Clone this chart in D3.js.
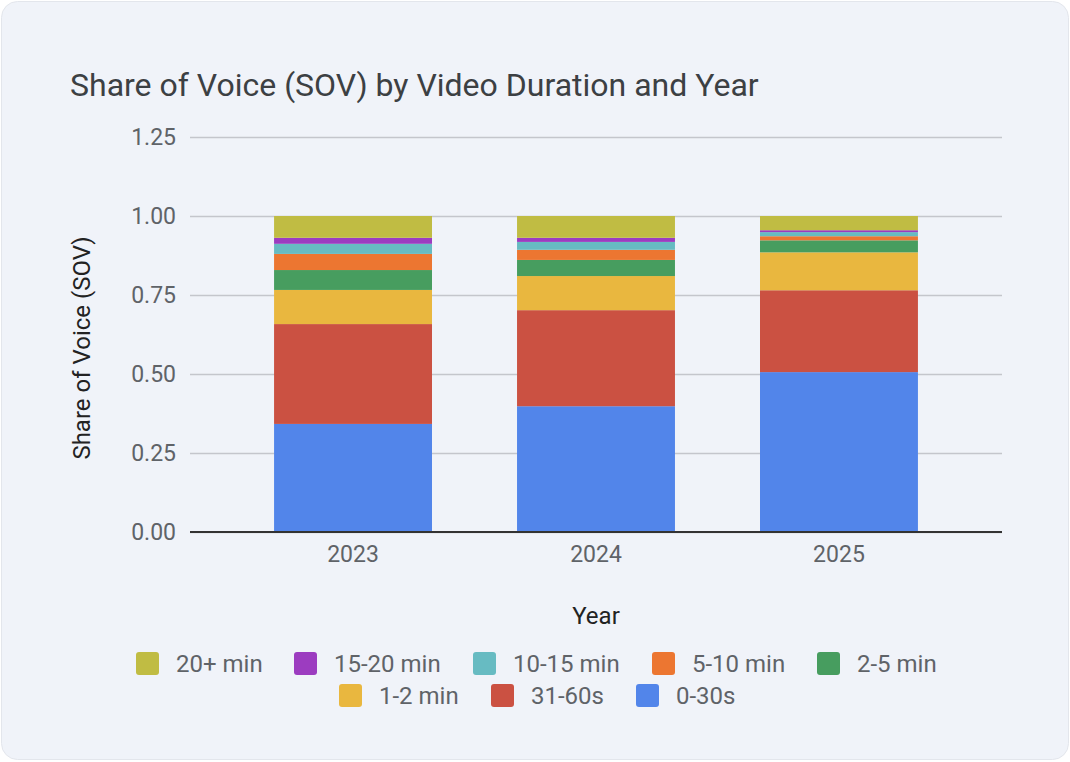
<!DOCTYPE html>
<html>
<head>
<meta charset="utf-8">
<script src="https://cdn.jsdelivr.net/npm/d3@7"></script>
<style>
  body { margin: 0; background: #fff; font-family: Roboto, "Noto Sans", sans-serif; }
  svg { display: block; }
</style>
</head>
<body>
<svg id="chart" width="1070" height="762"></svg>
<script>
var years = ["2023", "2024", "2025"];

// series listed bottom to top of the stack
var seriesNames = ["0-30s", "31-60s", "1-2 min", "2-5 min", "5-10 min", "10-15 min", "15-20 min", "20+ min"];
var seriesColors = ["#5285ea", "#cb5142", "#e9b73f", "#479d5f", "#ec7631", "#67bbc2", "#9c3cc0", "#c0bc43"];

var sov0to30s = [0.342, 0.398, 0.506];
var sov31to60s = [0.316, 0.304, 0.259];
var sov1to2 = [0.108, 0.108, 0.120];
var sov2to5 = [0.063, 0.051, 0.038];
var sov5to10 = [0.051, 0.032, 0.013];
var sov10to15 = [0.032, 0.025, 0.013];
var sov15to20 = [0.019, 0.013, 0.006];
var sov20plus = [0.069, 0.069, 0.045];

var yTicks = [0, 0.25, 0.5, 0.75, 1.0, 1.25];

// legend order as drawn, two rows
var legendRows = [
	["20+ min", "15-20 min", "10-15 min", "5-10 min", "2-5 min"],
	["1-2 min", "31-60s", "0-30s"]
];

var seriesValues = [sov0to30s, sov31to60s, sov1to2, sov2to5, sov5to10, sov10to15, sov15to20, sov20plus];

var rows = years.map(function(y, i){
	var r = { year: y };
	seriesNames.forEach(function(name, k){ r[name] = seriesValues[k][i]; });
	return r;
});

var svg = d3.select("#chart");

// card
svg.append("rect")
	.attr("x", 1.5).attr("y", 1.5)
	.attr("width", 1067).attr("height", 758)
	.attr("rx", 16)
	.attr("fill", "#f0f3f9")
	.attr("stroke", "#e3e6ec");

svg.append("text")
	.attr("x", 70).attr("y", 96)
	.attr("font-size", 32)
	.attr("fill", "#3c4043")
	.text("Share of Voice (SOV) by Video Duration and Year");

var plot = { left: 190, right: 1002, top: 137, bottom: 532 };

var x = d3.scaleBand()
	.domain(years)
	.range([plot.left, plot.right])
	.paddingInner(0.35)
	.paddingOuter(0.346);

var y = d3.scaleLinear()
	.domain([0, 1.25])
	.range([plot.bottom, plot.top]);

var color = d3.scaleOrdinal().domain(seriesNames).range(seriesColors);

// gridlines + y labels
var yAxis = svg.append("g")
	.attr("transform", "translate(" + plot.left + ",0)")
	.call(d3.axisLeft(y).tickValues(yTicks).tickFormat(d3.format(".2f")).tickSize(0).tickPadding(14));
yAxis.select(".domain").remove();
yAxis.selectAll("text")
	.attr("font-family", "Roboto, sans-serif")
	.attr("font-size", 23)
	.attr("fill", "#5f6368");
yAxis.selectAll("g.tick line")
	.attr("x2", plot.right - plot.left)
	.attr("stroke", "#c4c6cc")
	.attr("stroke-width", 1.5);

var stack = d3.stack().keys(seriesNames);
var layers = stack(rows);

svg.append("g").selectAll("g")
	.data(layers)
	.join("g")
	.attr("fill", function(d){ return color(d.key); })
	.selectAll("rect")
	.data(function(d){ return d; })
	.join("rect")
	.attr("x", function(d){ return x(d.data.year); })
	.attr("width", x.bandwidth())
	.attr("y", function(d){ return y(d[1]); })
	.attr("height", function(d){ return y(d[0]) - y(d[1]); });

// baseline
svg.append("line")
	.attr("x1", plot.left).attr("x2", plot.right)
	.attr("y1", y(0)).attr("y2", y(0))
	.attr("stroke", "#333")
	.attr("stroke-width", 2);

var xAxis = svg.append("g")
	.attr("transform", "translate(0," + plot.bottom + ")")
	.call(d3.axisBottom(x).tickSize(0).tickPadding(14));
xAxis.select(".domain").remove();
xAxis.selectAll("text")
	.attr("font-family", "Roboto, sans-serif")
	.attr("font-size", 23)
	.attr("fill", "#5f6368");

svg.append("text")
	.attr("x", (plot.left + plot.right) / 2).attr("y", 624)
	.attr("text-anchor", "middle")
	.attr("font-size", 24)
	.attr("fill", "#222")
	.text("Year");

svg.append("text")
	.attr("transform", "translate(90," + 348 + ") rotate(-90)")
	.attr("text-anchor", "middle")
	.attr("font-size", 24)
	.attr("fill", "#222")
	.text("Share of Voice (SOV)");

// legend
var legendX = [[136, 294, 473, 652, 817], [339, 491, 636]];
var legendY = [664, 696];
legendRows.forEach(function(row, r){
	row.forEach(function(name, i){
		var g = svg.append("g")
			.attr("transform", "translate(" + legendX[r][i] + "," + legendY[r] + ")");
		g.append("rect")
			.attr("x", 0).attr("y", -12)
			.attr("width", 23).attr("height", 23)
			.attr("rx", 3)
			.attr("fill", color(name));
		g.append("text")
			.attr("x", 40).attr("y", 0)
			.attr("dy", "0.35em")
			.attr("font-size", 24)
			.attr("fill", "#5f6368")
			.text(name);
	});
});
</script>
</body>
</html>
